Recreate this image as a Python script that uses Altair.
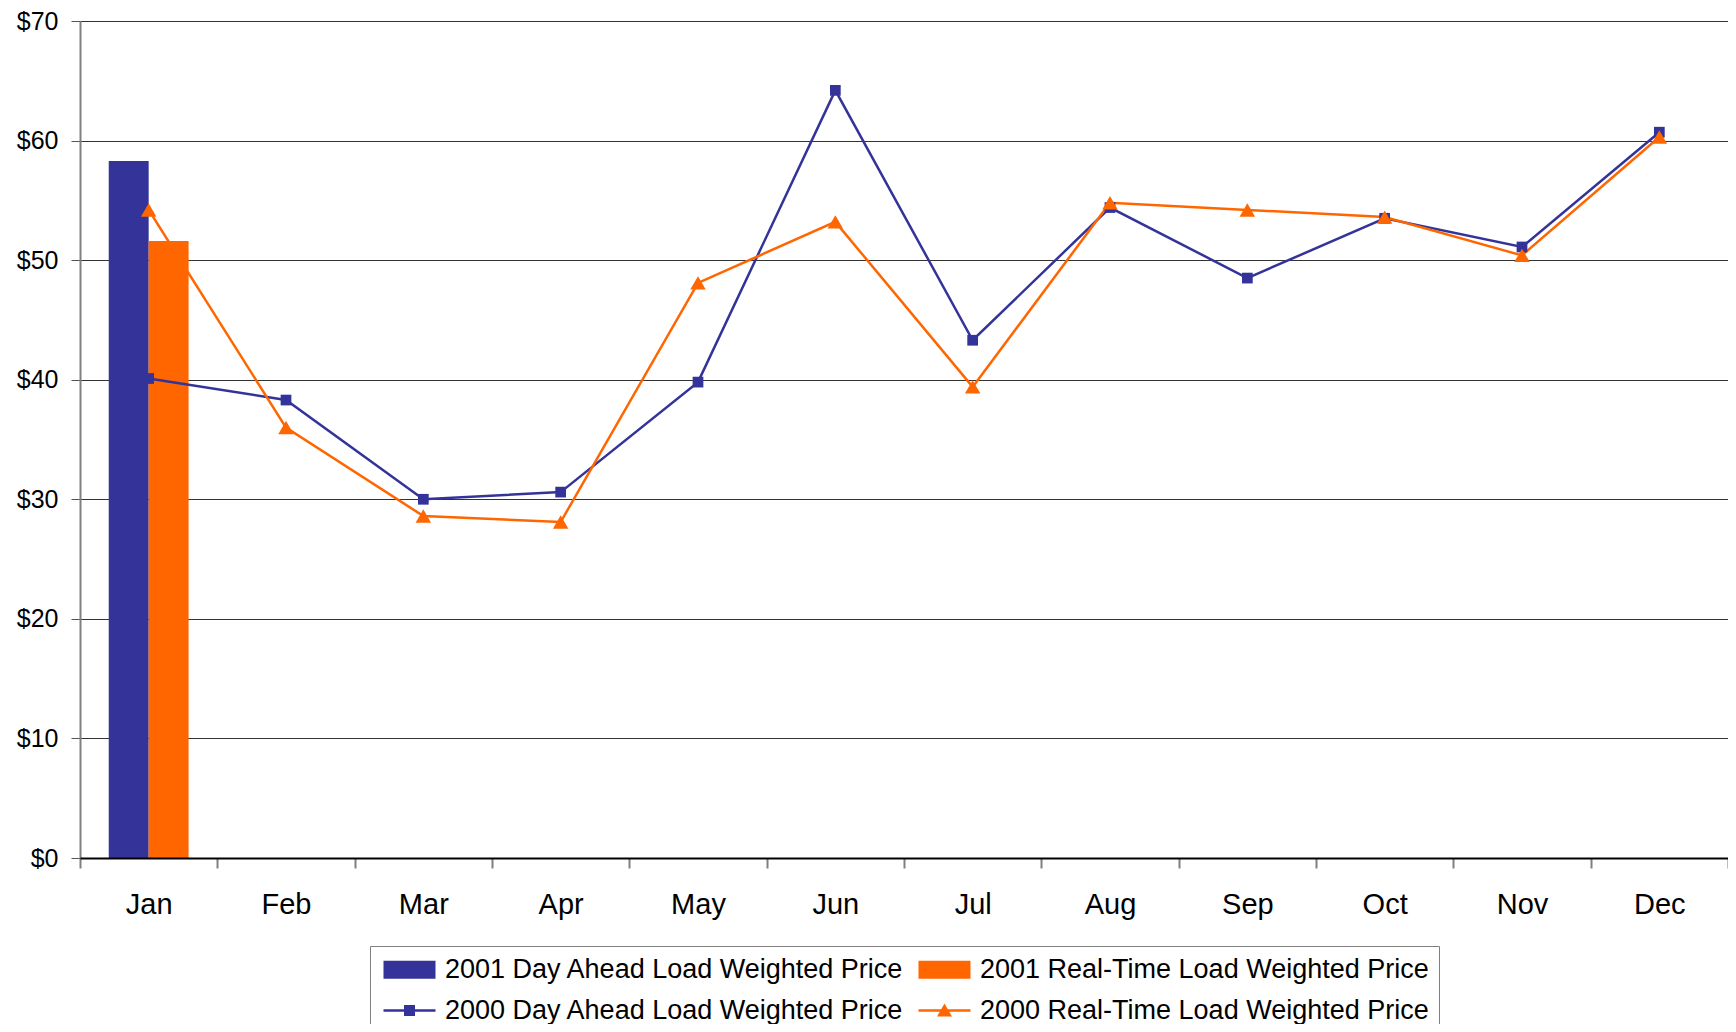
import altair as alt
import pandas as pd

months = ["Jan", "Feb", "Mar", "Apr", "May", "Jun", "Jul", "Aug", "Sep", "Oct", "Nov", "Dec"]
da_2000 = [40.1, 38.3, 30.0, 30.6, 39.8, 64.2, 43.3, 54.4, 48.5, 53.5, 51.1, 60.7]
rt_2000 = [54.2, 36.0, 28.6, 28.1, 48.1, 53.2, 39.4, 54.8, 54.2, 53.6, 50.4, 60.3]
bar_months = ["Jan"]
da_2001 = [58.3]
rt_2001 = [51.6]

S_DA01 = "2001 Day Ahead Load Weighted Price"
S_RT01 = "2001 Real-Time Load Weighted Price"
S_DA00 = "2000 Day Ahead Load Weighted Price"
S_RT00 = "2000 Real-Time Load Weighted Price"
# legend fills column by column
series_names = [S_DA01, S_DA00, S_RT01, S_RT00]
series_colors = ["#333399", "#333399", "#FF6600", "#FF6600"]
# legend symbols (unit = 10px, symbol centre sits 10px from entry left)
legend_paths = [
    "M-1,-0.9H4.2V0.9H-1Z",
    "M-1,-0.12H4.2V0.12H-1Z M1.05,-0.55H2.15V0.55H1.05Z",
    "M-1,-0.9H4.2V0.9H-1Z",
    "M-1,-0.12H4.2V0.12H-1Z M1.6,-0.7L2.35,0.6H0.85Z",
]

bar_df = pd.DataFrame(
    [{"month": m, "series": S_DA01, "value": v} for m, v in zip(bar_months, da_2001)]
    + [{"month": m, "series": S_RT01, "value": v} for m, v in zip(bar_months, rt_2001)]
)
line_df = pd.DataFrame(
    [{"month": m, "series": S_DA00, "value": v} for m, v in zip(months, da_2000)]
    + [{"month": m, "series": S_RT00, "value": v} for m, v in zip(months, rt_2000)]
)

FONT = "Liberation Sans"

x_enc = alt.X(
    "month:N",
    sort=months,
    scale=alt.Scale(domain=months, paddingInner=0, paddingOuter=0),
    axis=alt.Axis(
        title=None, labelAngle=0, labelOverlap=False, tickBand="extent",
        tickSize=10, tickColor="#808080", tickWidth=2,
        domainColor="#000000", domainWidth=2,
        labelFont=FONT, labelFontSize=29, labelColor="black", labelPadding=22,
        zindex=1,
    ),
)
y_enc = alt.Y(
    "value:Q",
    scale=alt.Scale(domain=[0, 70], nice=False),
    axis=alt.Axis(
        title=None, values=list(range(0, 71, 10)), labelExpr="'$' + datum.value",
        grid=True, gridColor="#333333", gridWidth=1,
        tickSize=9, tickColor="#555555", tickWidth=1,
        domainColor="#808080", domainWidth=2,
        labelFont=FONT, labelFontSize=25, labelColor="black", labelPadding=13,
    ),
)

legend_spec = alt.Legend(
    title=None, orient="none", legendX=290, legendY=925, columns=2,
    padding=10, strokeColor="#808080", fillColor="white",
    columnPadding=11, rowPadding=13, symbolSize=400, symbolOffset=0,
    symbolStrokeWidth=0, symbolOpacity=1, labelOffset=38, labelFont=FONT,
    labelFontSize=27, labelColor="black", labelLimit=1000,
)
color_scale = alt.Scale(domain=series_names, range=series_colors)
color_enc = alt.Color("series:N", scale=color_scale, legend=legend_spec)

legend_layer = alt.Chart(line_df).transform_filter("false").mark_point(filled=True).encode(
    x=x_enc,
    y=y_enc,
    color=color_enc,
    shape=alt.Shape("series:N", scale=alt.Scale(domain=series_names, range=legend_paths), legend=legend_spec),
)

bars = alt.Chart(bar_df).mark_bar().encode(
    x=x_enc,
    xOffset=alt.XOffset(
        "series:N",
        scale=alt.Scale(domain=[S_DA01, S_RT01], paddingInner=0, paddingOuter=0.72),
    ),
    y=y_enc,
    color=color_enc,
)

lines = alt.Chart(line_df).mark_line(strokeWidth=2.5).encode(
    x=x_enc, y=y_enc, color=color_enc, detail="series:N"
)

pts_da = alt.Chart(line_df).transform_filter(
    alt.datum.series == S_DA00
).mark_point(filled=True, opacity=1, shape="square", size=115).encode(
    x=x_enc, y=y_enc, color=color_enc
)

pts_rt = alt.Chart(line_df).transform_filter(
    alt.datum.series == S_RT00
).mark_point(filled=True, opacity=1, shape="triangle-up", size=240).encode(
    x=x_enc, y=y_enc, color=color_enc
)

chart = alt.layer(legend_layer, bars, lines, pts_da, pts_rt).properties(
    width=1648,
    height=837,
    autosize=alt.AutoSizeParams(type="none"),
    padding={"left": 72, "top": 13, "right": 0, "bottom": 166},
).configure_view(
    stroke="#808080", strokeWidth=2
).configure(background="white")

chart.save("out.html", embed_options={"renderer": "svg", "actions": False})
